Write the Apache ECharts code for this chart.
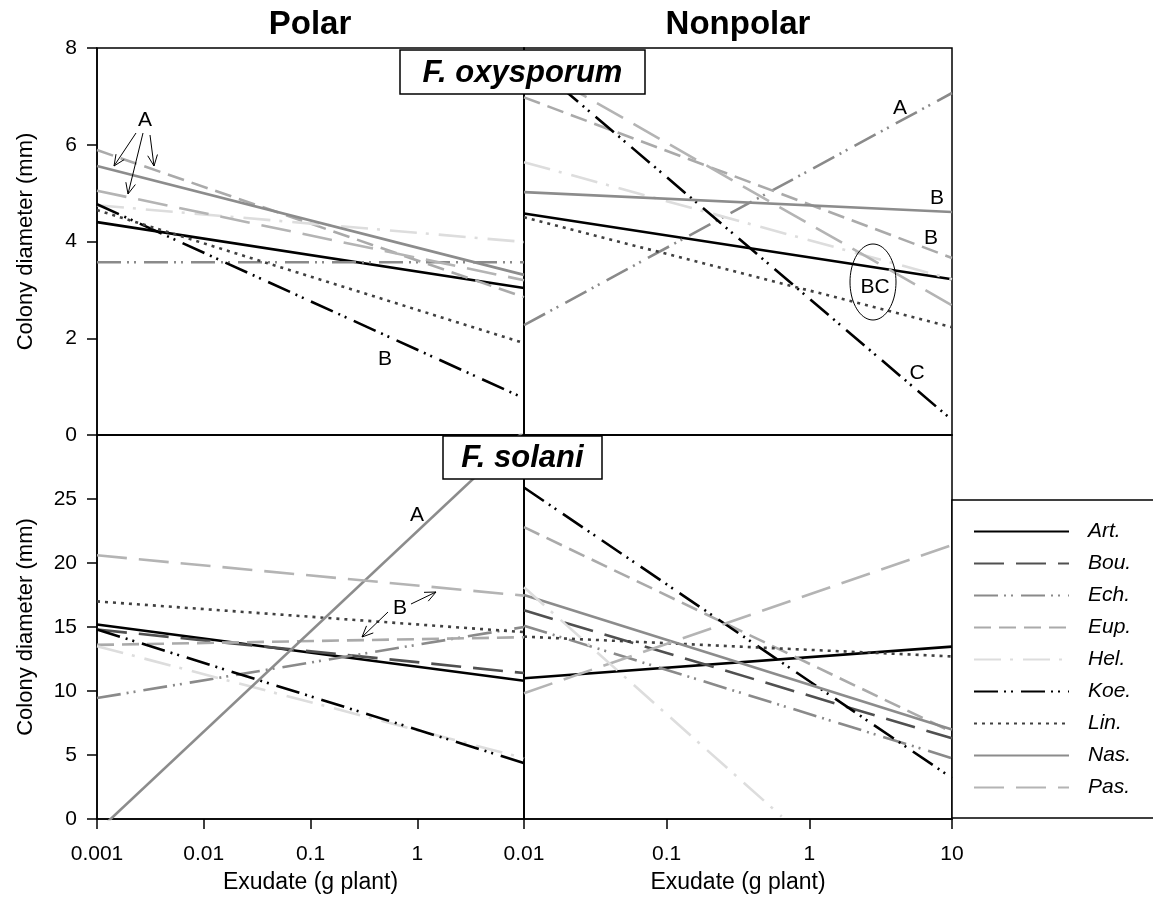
<!DOCTYPE html>
<html>
<head>
<meta charset="utf-8">
<script src="https://cdn.jsdelivr.net/npm/echarts@6/dist/echarts.min.js"></script>
<style>
  html, body { margin: 0; padding: 0; background: #fff; }
  #chart { width: 1153px; height: 902px; }
</style>
</head>
<body>
<div id="chart"></div>
<script>
// Species (legend order)
const species = ['Art.', 'Bou.', 'Ech.', 'Eup.', 'Hel.', 'Koe.', 'Lin.', 'Nas.', 'Pas.'];

// Exudate ranges of the two columns (g plant, log scale)
const polarRange = [0.001, 10];
const nonpolarRange = [0.01, 10];

// Colony diameter (mm) at the ends of each fitted line: [start, end]
// F. oxysporum, polar exudate
const oxyPolar = {
  'Art.': [4.40, 3.04],
  'Ech.': [3.57, 3.57],
  'Eup.': [5.89, 2.85],
  'Hel.': [4.75, 3.99],
  'Koe.': [4.77, 0.76],
  'Lin.': [4.65, 1.90],
  'Nas.': [5.56, 3.31],
  'Pas.': [5.05, 3.20]
};
// F. oxysporum, nonpolar exudate
const oxyNonpolar = {
  'Art.': [4.58, 3.22],
  'Ech.': [2.27, 7.07],
  'Eup.': [6.98, 3.66],
  'Hel.': [5.64, 3.22],
  'Koe.': [7.84, 0.31],
  'Lin.': [4.50, 2.23],
  'Nas.': [5.02, 4.61],
  'Pas.': [7.72, 2.68]
};
// F. solani, polar exudate
const solPolar = {
  'Art.': [15.2, 10.8],
  'Bou.': [14.8, 11.4],
  'Ech.': [9.45, 15.0],
  'Eup.': [13.6, 14.2],
  'Hel.': [13.5, 4.75],
  'Koe.': [14.8, 4.37],
  'Lin.': [17.0, 14.6],
  'Nas.': [-1.0, 30.3],
  'Pas.': [20.6, 17.45]
};
// F. solani, nonpolar exudate
const solNonpolar = {
  'Art.': [11.0, 13.47],
  'Bou.': [16.3, 6.3],
  'Ech.': [15.1, 4.75],
  'Eup.': [22.8, 6.8],
  'Koe.': [25.9, 3.2],
  'Lin.': [14.25, 12.7],
  'Nas.': [17.5, 7.0],
  'Pas.': [9.83, 21.4]
};
// Hel. on nonpolar exudate stops where it reaches zero
const solNonpolarHel = [[0.01, 18.1], [0.64, 0.2]];

// Tick labels
const oxyTicks = [0, 2, 4, 6, 8];
const solTicks = [0, 5, 10, 15, 20, 25];

// Line styles per species
const styles = {
  'Art.': { color: '#000000', type: 'solid' },
  'Bou.': { color: '#505050', type: [30, 12] },
  'Ech.': { color: '#8a8a8a', type: [24, 6, 2, 5, 2, 8] },
  'Eup.': { color: '#aaaaaa', type: [17, 8] },
  'Hel.': { color: '#dddddd', type: [27, 9, 3, 10] },
  'Koe.': { color: '#000000', type: [24, 6, 2, 5, 2, 8] },
  'Lin.': { color: '#404040', type: [3, 5] },
  'Nas.': { color: '#8c8c8c', type: 'solid' },
  'Pas.': { color: '#b4b4b4', type: [30, 12] }
};

const FONT = '"Liberation Sans", Arial, sans-serif';

function lineSeries(name, data, gridIdx) {
  const s = styles[name];
  return {
    type: 'line', name: name, data: data, symbol: 'none',
    xAxisIndex: gridIdx, yAxisIndex: gridIdx, clip: true,
    silent: true, animation: false,
    lineStyle: { color: s.color, type: s.type, width: 2.6 },
    itemStyle: { color: s.color }
  };
}

const series = [];
function addPanel(table, range, gridIdx) {
  species.forEach(function (sp) {
    if (table[sp]) {
      series.push(lineSeries(sp, [[range[0], table[sp][0]], [range[1], table[sp][1]]], gridIdx));
    }
  });
}
addPanel(oxyPolar, polarRange, 0);
addPanel(oxyNonpolar, nonpolarRange, 1);
addPanel(solPolar, polarRange, 2);
addPanel(solNonpolar, nonpolarRange, 3);
series.push(lineSeries('Hel.', solNonpolarHel, 3));

function logLabel(hideMax) {
  return function (v) {
    const n = +(+v).toPrecision(2);
    if (hideMax && n >= 10) return '';
    return String(n);
  };
}

const axisLineStyle = { show: true, lineStyle: { color: '#000', width: 1.5 } };
const tickOut = { show: true, inside: false, length: 10, lineStyle: { color: '#000', width: 1.5 } };
const labelFont = { color: '#000', fontSize: 21, fontFamily: FONT };

function xAxis(gridIdx, range, showLabels, hideMax) {
  return {
    type: 'log', logBase: 10, gridIndex: gridIdx, min: range[0], max: range[1],
    axisLine: axisLineStyle,
    axisTick: showLabels ? tickOut : { show: false },
    axisLabel: showLabels ? Object.assign({ margin: 25, formatter: logLabel(hideMax) }, labelFont) : { show: false },
    splitLine: { show: false },
    name: showLabels ? 'Exudate (g plant)' : '',
    nameLocation: 'middle', nameGap: 52,
    nameTextStyle: { color: '#000', fontSize: 23, fontFamily: FONT }
  };
}
function yAxis(gridIdx, max, interval, showLabels, ticks) {
  return {
    type: 'value', gridIndex: gridIdx, min: 0, max: max, interval: interval,
    axisLine: axisLineStyle,
    axisTick: showLabels ? tickOut : { show: false },
    axisLabel: showLabels ? Object.assign({
      margin: 20,
      formatter: function (v) { return ticks.indexOf(v) >= 0 ? String(v) : ''; }
    }, labelFont) : { show: false },
    splitLine: { show: false },
    name: showLabels ? 'Colony diameter (mm)' : '',
    nameLocation: 'middle', nameGap: 60, nameRotate: 90,
    nameTextStyle: { color: '#000', fontSize: 22, fontFamily: FONT }
  };
}

const gridBase = { show: true, borderColor: '#000', borderWidth: 1.5, backgroundColor: 'transparent' };

// Annotation helpers
function text(str, x, y, opts) {
  return Object.assign({
    type: 'text', x: x, y: y, z: 100,
    style: { text: str, font: '21px ' + FONT, fill: '#000', textAlign: 'center', textVerticalAlign: 'middle' }
  }, opts || {});
}
function arrow(x1, y1, x2, y2) {
  const a = Math.atan2(y2 - y1, x2 - x1), L = 12, s = 0.42;
  return [
    { type: 'line', z: 100, shape: { x1: x1, y1: y1, x2: x2, y2: y2 }, style: { stroke: '#000', lineWidth: 1 } },
    { type: 'polyline', z: 100, shape: { points: [
      [x2 - L * Math.cos(a - s), y2 - L * Math.sin(a - s)], [x2, y2],
      [x2 - L * Math.cos(a + s), y2 - L * Math.sin(a + s)]] },
      style: { stroke: '#000', lineWidth: 1, fill: null } }
  ];
}
function ellipse(cx, cy, rx, ry) {
  const pts = [];
  for (let i = 0; i < 72; i++) {
    const t = i / 72 * Math.PI * 2;
    pts.push([cx + rx * Math.cos(t), cy + ry * Math.sin(t)]);
  }
  return { type: 'polygon', z: 100, shape: { points: pts }, style: { stroke: '#000', lineWidth: 1, fill: null } };
}
function titleBox(str, x, y, w, h) {
  return [
    { type: 'rect', z: 99, shape: { x: x, y: y, width: w, height: h },
      style: { fill: '#fff', stroke: '#000', lineWidth: 1.5 } },
    text(str, x + w / 2, y + h / 2 + 1, { style: { text: str, font: 'italic bold 31px ' + FONT, fill: '#000',
      textAlign: 'center', textVerticalAlign: 'middle' } })
  ];
}

const graphics = [].concat(
  [
    text('Polar', 310, 25, { style: { text: 'Polar', font: 'bold 33px ' + FONT, fill: '#000', textAlign: 'center', textVerticalAlign: 'middle' } }),
    text('Nonpolar', 738, 25, { style: { text: 'Nonpolar', font: 'bold 33px ' + FONT, fill: '#000', textAlign: 'center', textVerticalAlign: 'middle' } })
  ],
  titleBox('F. oxysporum', 400, 50, 245, 44),
  titleBox('F. solani', 443, 436, 159, 43),
  // F. oxysporum, polar
  [text('A', 145, 120)],
  arrow(136, 133, 114, 166),
  arrow(143, 133, 128, 194),
  arrow(150, 135, 154, 166),
  [text('B', 385, 359)],
  // F. oxysporum, nonpolar
  [text('A', 900, 108), text('B', 937, 198), text('B', 931, 238), text('BC', 875, 287), text('C', 917, 373)],
  [ellipse(873, 282, 23, 38)],
  // F. solani, polar
  [text('A', 417, 515), text('B', 400, 608)],
  arrow(411, 604, 436, 592),
  arrow(388, 612, 362, 637),
  // legend frame
  [{ type: 'rect', z: 1, shape: { x: 952, y: 500, width: 220, height: 318 },
     style: { fill: '#fff', stroke: '#000', lineWidth: 1.5 } }]
);

const option = {
  animation: false,
  backgroundColor: '#fff',
  textStyle: { fontFamily: FONT },
  grid: [
    Object.assign({ left: 97, top: 48, width: 427, height: 387 }, gridBase),
    Object.assign({ left: 524, top: 48, width: 428, height: 387 }, gridBase),
    Object.assign({ left: 97, top: 435, width: 427, height: 384 }, gridBase),
    Object.assign({ left: 524, top: 435, width: 428, height: 384 }, gridBase)
  ],
  xAxis: [
    xAxis(0, polarRange, false, false),
    xAxis(1, nonpolarRange, false, false),
    xAxis(2, polarRange, true, true),
    xAxis(3, nonpolarRange, true, false)
  ],
  yAxis: [
    yAxis(0, 8, 2, true, oxyTicks),
    yAxis(1, 8, 2, false, oxyTicks),
    yAxis(2, 30, 5, true, solTicks),
    yAxis(3, 30, 5, false, solTicks)
  ],
  legend: {
    data: species,
    orient: 'vertical',
    left: 968, top: 516,
    itemWidth: 95, itemHeight: 14, itemGap: 11,
    selectedMode: false,
    z: 10,
    itemStyle: { opacity: 0 },
    textStyle: { color: '#000', fontSize: 21, fontStyle: 'italic', fontFamily: FONT, padding: [0, 0, 0, 14] }
  },
  graphic: graphics,
  series: series
};

const chart = echarts.init(document.getElementById('chart'), null, { renderer: 'canvas' });
chart.setOption(option);
</script>
</body>
</html>
